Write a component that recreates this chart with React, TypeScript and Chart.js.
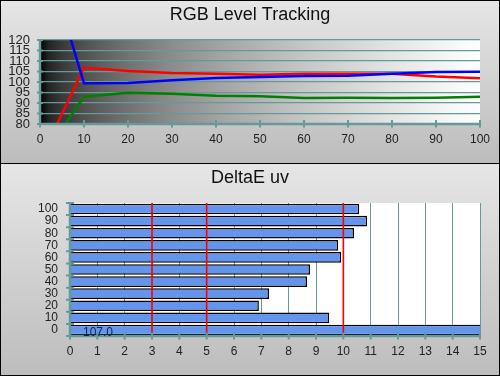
import React, { useEffect, useRef } from 'react';
import { Chart, registerables } from 'chart.js';

Chart.register(...registerables);

// ---------- Data ----------
const levelPercents = [0, 10, 20, 30, 40, 50, 60, 70, 80, 90, 100];
const redLevels = [63, 106.8, 105.2, 104.3, 103.9, 103.5, 103.9, 103.9, 103.9, 102.6, 101.8];
const greenLevels = [62, 93.0, 94.9, 94.4, 93.5, 93.2, 92.4, 92.5, 92.4, 92.5, 93.0];
const blueLevels = [169, 99.4, 99.5, 100.8, 101.9, 102.4, 102.9, 103.0, 103.9, 104.8, 104.9];

const deltaCategories = ['0', '10', '20', '30', '40', '50', '60', '70', '80', '90', '100'];
const deltaEuv = [107.0, 9.48, 6.91, 7.28, 8.67, 8.78, 9.92, 9.81, 10.39, 10.87, 10.58];
const thresholdLines = [3, 5, 10];

const topTitle = 'RGB Level Tracking';
const bottomTitle = 'DeltaE uv';

// ---------- Styles ----------
const TEAL = '#669999';
const FONT = 'Liberation Sans, Arial, Helvetica, sans-serif';
const TICK_COLOR = '#222';

function drawTitle(chart: any, text: string) {
  const ctx = chart.ctx;
  ctx.save();
  ctx.font = `18px ${FONT}`;
  ctx.fillStyle = '#111';
  ctx.textAlign = 'center';
  ctx.textBaseline = 'alphabetic';
  ctx.fillText(text, chart.width / 2, 19);
  ctx.restore();
}

const topPlugin = {
  id: 'topDecor',
  beforeDraw(chart: any) {
    const { ctx, chartArea: a } = chart;
    ctx.save();
    const g = ctx.createLinearGradient(a.left, 0, a.right, 0);
    const stops = [0, 0.02, 0.05, 0.1, 0.15, 0.2, 0.3, 0.4, 0.5, 0.6, 0.7, 0.8, 0.9, 1];
    stops.forEach((t) => {
      const v = Math.round(255 * Math.sqrt(t));
      g.addColorStop(t, `rgb(${v},${v},${v})`);
    });
    ctx.fillStyle = g;
    ctx.fillRect(a.left, a.top, a.right - a.left, a.bottom - a.top);
    ctx.restore();
  },
  afterDatasetsDraw(chart: any) {
    const { ctx, chartArea: a, scales } = chart;
    const xs = scales.x;
    const ys = scales.y;
    ctx.save();
    ctx.strokeStyle = TEAL;
    ctx.lineWidth = 2.5;
    ctx.beginPath();
    ctx.moveTo(a.left, a.top - 1);
    ctx.lineTo(a.left, a.bottom);
    ctx.lineTo(a.right, a.bottom);
    ctx.stroke();
    ctx.lineWidth = 2;
    ctx.beginPath();
    xs.ticks.forEach((t: any) => {
      const px = xs.getPixelForValue(t.value);
      ctx.moveTo(px, a.bottom - 4);
      ctx.lineTo(px, a.bottom + 3.5);
    });
    ys.ticks.forEach((t: any) => {
      const py = ys.getPixelForValue(t.value);
      ctx.moveTo(a.left - 3, py);
      ctx.lineTo(a.left + 3, py);
    });
    ctx.stroke();
    ctx.restore();
  },
  afterDraw(chart: any) {
    drawTitle(chart, topTitle);
  },
};

const bottomPlugin = {
  id: 'bottomDecor',
  beforeDraw(chart: any) {
    const { ctx, chartArea: a } = chart;
    ctx.save();
    ctx.fillStyle = '#ffffff';
    ctx.fillRect(a.left, a.top, a.right - a.left, a.bottom - a.top);
    ctx.restore();
  },
  afterDatasetsDraw(chart: any) {
    const { ctx, chartArea: a, scales } = chart;
    const xs = scales.x;
    const ys = scales.y;
    ctx.save();
    // threshold lines
    ctx.strokeStyle = '#ff0000';
    ctx.lineWidth = 1.6;
    ctx.beginPath();
    thresholdLines.forEach((v) => {
      const px = xs.getPixelForValue(v);
      ctx.moveTo(px, a.top);
      ctx.lineTo(px, a.bottom);
    });
    ctx.stroke();
    // axes
    ctx.strokeStyle = TEAL;
    ctx.lineWidth = 2.5;
    ctx.beginPath();
    ctx.moveTo(a.left, a.top);
    ctx.lineTo(a.left, a.bottom);
    ctx.lineTo(a.right, a.bottom);
    ctx.stroke();
    ctx.lineWidth = 2;
    ctx.beginPath();
    xs.ticks.forEach((t: any) => {
      const px = xs.getPixelForValue(t.value);
      ctx.moveTo(px, a.bottom - 3.5);
      ctx.lineTo(px, a.bottom + 3.5);
    });
    const n = deltaCategories.length;
    for (let i = 0; i <= n; i++) {
      const py = a.top + ((a.bottom - a.top) * i) / n;
      ctx.moveTo(a.left - 4, py);
      ctx.lineTo(a.left + 4, py);
    }
    ctx.stroke();
    // value label for the 0% bar
    const py0 = ys.getPixelForValue(0);
    ctx.font = `12px ${FONT}`;
    ctx.fillStyle = '#10204a';
    ctx.textAlign = 'left';
    ctx.textBaseline = 'middle';
    ctx.fillText(deltaEuv[0].toFixed(1), xs.getPixelForValue(0) + 13, py0 + 3);
    ctx.restore();
  },
  afterDraw(chart: any) {
    drawTitle(chart, bottomTitle);
  },
};

export default function App() {
  const topRef = useRef<HTMLCanvasElement>(null);
  const bottomRef = useRef<HTMLCanvasElement>(null);

  useEffect(() => {
    const exactClip = { left: 0, top: 0, right: 0, bottom: 0 };
    const mk = (vals: number[]) => levelPercents.map((x, i) => ({ x, y: vals[i] }));
    const top = new Chart(topRef.current as HTMLCanvasElement, {
      type: 'line',
      data: {
        datasets: [
          { label: 'Blue', data: mk(blueLevels), borderColor: '#0000ff', borderWidth: 2.5, pointRadius: 0, tension: 0, clip: exactClip as any },
          { label: 'Red', data: mk(redLevels), borderColor: '#ff0000', borderWidth: 2.5, pointRadius: 0, tension: 0, clip: exactClip as any },
          { label: 'Green', data: mk(greenLevels), borderColor: '#008000', borderWidth: 2.5, pointRadius: 0, tension: 0, clip: exactClip as any },
        ],
      },
      options: {
        responsive: false,
        animation: false,
        devicePixelRatio: 1,
        events: [],
        layout: { padding: { top: 39, right: 19, left: 0, bottom: 0 } },
        plugins: { legend: { display: false }, tooltip: { enabled: false }, title: { display: false } },
        scales: {
          x: {
            type: 'linear',
            min: 0,
            max: 100,
            ticks: { stepSize: 10, padding: 8, color: TICK_COLOR, font: { family: FONT, size: 12 }, maxRotation: 0, autoSkip: false },
            grid: { display: false, drawTicks: false },
            border: { display: false },
            afterFit: (s: any) => { s.height = 39; },
          },
          y: {
            type: 'linear',
            min: 80,
            max: 120,
            ticks: { stepSize: 5, padding: 10, color: TICK_COLOR, font: { family: FONT, size: 13 }, autoSkip: false },
            grid: { color: TEAL, lineWidth: 1.2, drawTicks: false },
            border: { display: false },
            afterFit: (s: any) => { s.width = 39; },
          },
        },
      } as any,
      plugins: [topPlugin],
    });

    const bottom = new Chart(bottomRef.current as HTMLCanvasElement, {
      type: 'bar',
      data: {
        labels: deltaCategories,
        datasets: [
          {
            label: 'DeltaE uv',
            data: deltaEuv,
            backgroundColor: '#6495ED',
            borderColor: '#000000',
            borderWidth: 1.5,
            barPercentage: 0.88,
            categoryPercentage: 1,
            clip: exactClip as any,
          },
        ],
      },
      options: {
        indexAxis: 'y',
        responsive: false,
        animation: false,
        devicePixelRatio: 1,
        events: [],
        layout: { padding: { top: 39, right: 19, left: 0, bottom: 0 } },
        plugins: { legend: { display: false }, tooltip: { enabled: false }, title: { display: false } },
        scales: {
          x: {
            type: 'linear',
            min: 0,
            max: 15,
            ticks: { stepSize: 1, padding: 8, color: TICK_COLOR, font: { family: FONT, size: 12 }, maxRotation: 0, autoSkip: false },
            grid: { color: TEAL, lineWidth: 1, drawTicks: false },
            border: { display: false },
            afterFit: (s: any) => { s.height = 39; },
          },
          y: {
            type: 'category',
            reverse: true,
            ticks: { padding: 12, color: TICK_COLOR, font: { family: FONT, size: 12 }, autoSkip: false },
            grid: { display: false, drawTicks: false },
            border: { display: false },
            afterFit: (s: any) => { s.width = 69; },
          },
        },
      } as any,
      plugins: [bottomPlugin],
    });

    return () => {
      top.destroy();
      bottom.destroy();
    };
  }, []);

  return (
    <div
      style={{
        position: 'absolute',
        left: 0,
        top: 0,
        width: 500,
        height: 376,
        boxSizing: 'border-box',
        border: '1px solid #000',
        overflow: 'hidden',
      }}
    >
      <div style={{ height: 162, borderBottom: '1px solid #000', background: 'linear-gradient(#e6e6e6, #bcbcbc)' }}>
        <canvas ref={topRef} width={498} height={162} style={{ display: 'block', width: 498, height: 162 }} />
      </div>
      <div style={{ height: 211, background: 'linear-gradient(#e6e6e6, #bdbdbd)' }}>
        <canvas ref={bottomRef} width={498} height={211} style={{ display: 'block', width: 498, height: 211 }} />
      </div>
    </div>
  );
}
